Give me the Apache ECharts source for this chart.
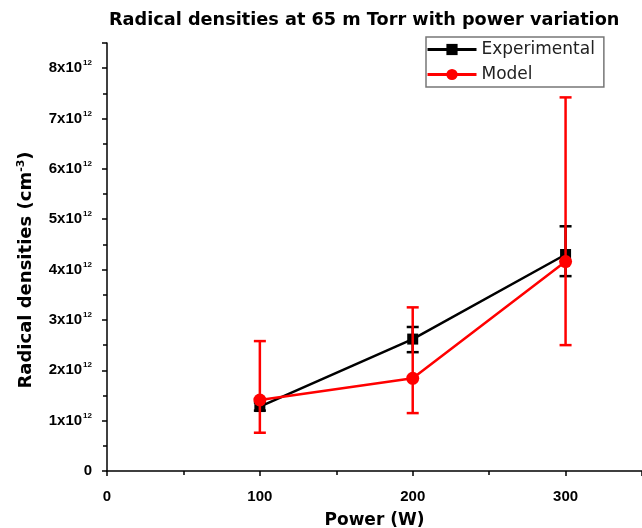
<!DOCTYPE html>
<html>
<head>
<meta charset="utf-8">
<script src="https://cdn.jsdelivr.net/npm/echarts@6/dist/echarts.min.js"></script>
<style>html,body{margin:0;padding:0;background:#fff;}#c{width:642px;height:528px;}</style>
</head>
<body>
<div id="c"></div>
<script>
const power = [100, 200, 300];
const expMean = [1.28, 2.62, 4.3];
const expLow = [1.2, 2.36, 3.87];
const expHigh = [1.36, 2.86, 4.86];
const modelMean = [1.41, 1.84, 4.16];
const modelLow = [0.76, 1.15, 2.5];
const modelHigh = [2.58, 3.25, 7.42];
const yTicks = [0, 1, 2, 3, 4, 5, 6, 7, 8];
const xTicks = [0, 100, 200, 300];

const FONT = 'Liberation Sans, Arial, sans-serif';
const WIDE = 'DejaVu Sans, sans-serif';
const chart = echarts.init(document.getElementById('c'));

function errRender(color, lw) {
  return function (params, api) {
    const x = api.value(0), lo = api.value(1), hi = api.value(2);
    const a = api.coord([x, lo]), b = api.coord([x, hi]);
    const hw = 6;
    const st = { stroke: color, lineWidth: lw };
    return {
      type: 'group',
      children: [
        { type: 'line', shape: { x1: a[0], y1: a[1], x2: b[0], y2: b[1] }, style: st },
        { type: 'line', shape: { x1: a[0] - hw, y1: a[1], x2: a[0] + hw, y2: a[1] }, style: st },
        { type: 'line', shape: { x1: b[0] - hw, y1: b[1], x2: b[0] + hw, y2: b[1] }, style: st }
      ]
    };
  };
}

chart.setOption({
  animation: false,
  backgroundColor: '#fff',
  title: {
    text: 'Radical densities at 65 m Torr with power variation',
    left: 104, top: 6,
    textStyle: { fontFamily: WIDE, fontWeight: 'bold', fontSize: 17.7, color: '#000' }
  },
  legend: {
    data: ['Experimental', 'Model'],
    orient: 'vertical',
    left: 426, top: 37,
    itemWidth: 49, itemHeight: 14, itemGap: 8,
    padding: [4, 9, 4, 0],
    borderColor: '#777', borderWidth: 1.5,
    lineStyle: { width: 3 },
    textStyle: { fontFamily: WIDE, fontSize: 17, color: '#222', padding: [0, 0, 0, 0] }
  },
  grid: { left: 107, right: 0, top: 43, bottom: 57, containLabel: false, outerBoundsMode: 'none' },
  xAxis: {
    type: 'value', min: 0, max: 350, interval: 100,
    name: 'Power (W)', nameLocation: 'middle', nameGap: 41,
    nameTextStyle: { fontFamily: WIDE, fontWeight: 'bold', fontSize: 17, color: '#000' },
    axisLine: { show: true, lineStyle: { color: '#000', width: 1.5 } },
    axisTick: { show: true, inside: false, length: 5, lineStyle: { color: '#000', width: 1.5 } },
    minorTick: { show: true, splitNumber: 2, length: 4, lineStyle: { color: '#000', width: 1.5 } },
    splitLine: { show: false },
    axisLabel: {
      showMaxLabel: false, margin: 18,
      fontFamily: FONT, fontWeight: 'bold', fontSize: 15, color: '#000',
      formatter: v => (xTicks.indexOf(v) >= 0 ? String(v) : '')
    }
  },
  yAxis: {
    type: 'value', min: 0, max: 8.5, interval: 1,
    name: '{n|Radical densities (cm}{s|-3}{n|)}', nameLocation: 'middle', nameGap: 70,
    nameTextStyle: {
      padding: [0, 26, 0, 0],
      rich: {
        n: { fontFamily: WIDE, fontWeight: 'bold', fontSize: 18, color: '#000' },
        s: { fontFamily: WIDE, fontWeight: 'bold', fontSize: 11, color: '#000', padding: [0, 0, 10, 0] }
      }
    },
    axisLine: { show: true, lineStyle: { color: '#000', width: 1.5 } },
    axisTick: { show: true, inside: false, length: 5, lineStyle: { color: '#000', width: 1.5 } },
    minorTick: { show: true, splitNumber: 2, length: 4, lineStyle: { color: '#000', width: 1.5 } },
    splitLine: { show: false },
    axisLabel: {
      showMaxLabel: false, margin: 15,
      formatter: v => {
        if (yTicks.indexOf(v) < 0) return '';
        if (v === 0) return '{b|0}';
        return '{b|' + v + 'x10}{s|12}';
      },
      rich: {
        b: { fontFamily: FONT, fontWeight: 'bold', fontSize: 15, color: '#000' },
        s: { fontFamily: FONT, fontWeight: 'bold', fontSize: 8, color: '#000', padding: [0, 0, 10, 1] }
      }
    }
  },
  series: [
    {
      name: 'expErr', type: 'custom', renderItem: errRender('#000', 2.5),
      data: power.map((p, i) => [p, expLow[i], expHigh[i]]), z: 2
    },
    {
      name: 'Experimental', type: 'line',
      data: power.map((p, i) => [p, expMean[i]]),
      symbol: 'rect', symbolSize: 11,
      lineStyle: { color: '#000', width: 2.5 },
      itemStyle: { color: '#000' }, z: 3
    },
    {
      name: 'modelErr', type: 'custom', renderItem: errRender('#ff0000', 2.5),
      data: power.map((p, i) => [p, modelLow[i], modelHigh[i]]), z: 4
    },
    {
      name: 'Model', type: 'line',
      data: power.map((p, i) => [p, modelMean[i]]),
      symbol: 'circle', symbolSize: 13,
      lineStyle: { color: '#ff0000', width: 2.5 },
      itemStyle: { color: '#ff0000' }, z: 5
    }
  ]
});
</script>
</body>
</html>
